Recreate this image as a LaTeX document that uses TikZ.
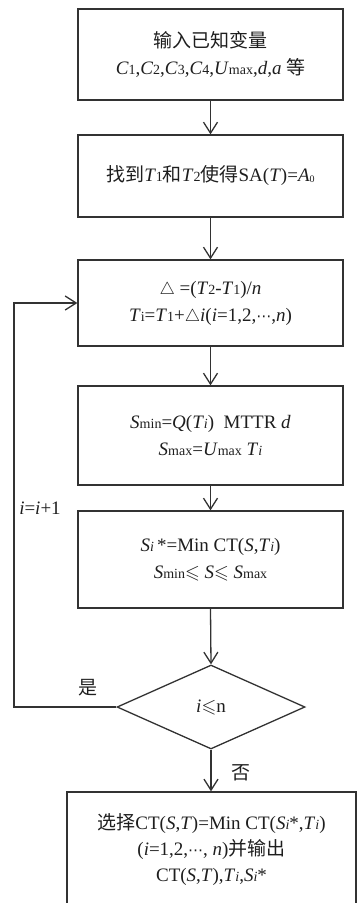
\documentclass[tikz,border=0pt]{standalone}
\usepackage{fontspec}
\usepackage{amssymb}
\setmainfont{Liberation Serif}
\newfontfamily\cjk{Noto Sans CJK SC}
\newfontfamily\djv{DejaVu Sans}
\usetikzlibrary{shapes.geometric,arrows.meta}
\newcommand{\zh}[1]{{\cjk #1}}
\newcommand{\lo}[1]{{\fontsize{14}{14}\selectfont #1}}
\newcommand{\cdotsx}{{\djv\fontsize{15}{15}\selectfont ⋯}}
\definecolor{linec}{RGB}{50,50,50}
\definecolor{txtc}{RGB}{30,30,30}
\tikzset{
  stepbox/.style={draw=linec, line width=1.3pt, rectangle, minimum width=265pt,
    align=center, inner sep=0pt, text=txtc, font=\fontsize{19}{27}\selectfont},
  decide/.style={draw=linec, line width=1.3pt, diamond, minimum width=188pt,
    minimum height=84pt, aspect=2.24, inner sep=0pt, text=txtc, font=\fontsize{19}{27}\selectfont},
  arr/.style={draw=linec, line width=1.3pt, -{Straight Barb[length=11pt,width=14pt,line width=1.3pt]}},
  lbl/.style={text=txtc, inner sep=0pt, font=\fontsize{19}{27}\selectfont}
}
\begin{document}
\begin{tikzpicture}[x=1pt,y=-1pt]
\useasboundingbox (0,0) rectangle (358,903);
\clip (0,0) rectangle (358,903);
\node[stepbox, minimum height=91pt] (b1) at (210.5,54.5)
  {\zh{输入已知变量}\\ \textit{C}\lo{1},\textit{C}\lo{2},\textit{C}\lo{3},\textit{C}\lo{4},\textit{U}\lo{max},\textit{d},\textit{a} \zh{等}};
\node[stepbox, minimum height=82pt] (b2) at (210.5,176)
  {\zh{找到}\textit{T}\lo{1}\zh{和}\textit{T}\lo{2}\zh{使得}SA(\textit{T})=\textit{A}\raisebox{-1pt}{\fontsize{10}{10}\selectfont 0}};
\node[stepbox, minimum height=86pt] (b3) at (210.5,303)
  {$\triangle$ =(\textit{T}\lo{2}-\textit{T}\lo{1})/\textit{n}\\ \textit{T}\lo{i}=\textit{T}\lo{1}+$\triangle$\textit{i}(\textit{i}=1,2,\cdotsx,\textit{n})};
\node[stepbox, minimum height=99pt] (b4) at (210.5,435.5)
  {\textit{S}\lo{min}=\textit{Q}(\textit{T}\lo{\textit{i}})\ \ MTTR \textit{d}\\ \textit{S}\lo{max}=\textit{U}\lo{max} \textit{T}\lo{\textit{i}}};
\node[stepbox, minimum height=97pt] (b5) at (210.5,559.5)
  {\textit{S}\lo{\textit{i}}\,*=Min CT(\textit{S},\textit{T}\lo{\textit{i}})\\ \textit{S}\lo{min}$\leqslant$ \textit{S}$\leqslant$ \textit{S}\lo{max}};
\node[decide] (d) at (211,707) {\textit{i}$\leqslant$n};
\node[stepbox, minimum width=289pt, minimum height=115pt, font=\fontsize{19}{26}\selectfont] (b6) at (211.5,849.5)
  {\zh{选择}CT(\textit{S},\textit{T})=Min CT(\textit{S}\lo{\textit{i}}*,\textit{T}\lo{\textit{i}})\\ (\textit{i}=1,2,\cdotsx, \textit{n})\zh{并输出}\\ CT(\textit{S},\textit{T}),\textit{T}\lo{\textit{i}},\textit{S}\lo{\textit{i}}*};
\coordinate (fb) at (14,707);
\draw[arr] (b1) -- (b2);
\draw[arr] (b2) -- (b3);
\draw[arr] (b3) -- (b4);
\draw[arr] (b4) -- (b5);
\draw[arr] (b5.south) -- (d.north);
\draw[arr] (d.south) -- (d.south |- b6.north);
\draw[arr] (d.west) -- (fb) |- (b3.west);
\node[lbl] (inc) at (40,508) {\textit{i}=\textit{i}+1};
\node[lbl] (yes) at (88,688) {\zh{是}};
\node[lbl] (no) at (241,773) {\zh{否}};
\end{tikzpicture}
\end{document}
